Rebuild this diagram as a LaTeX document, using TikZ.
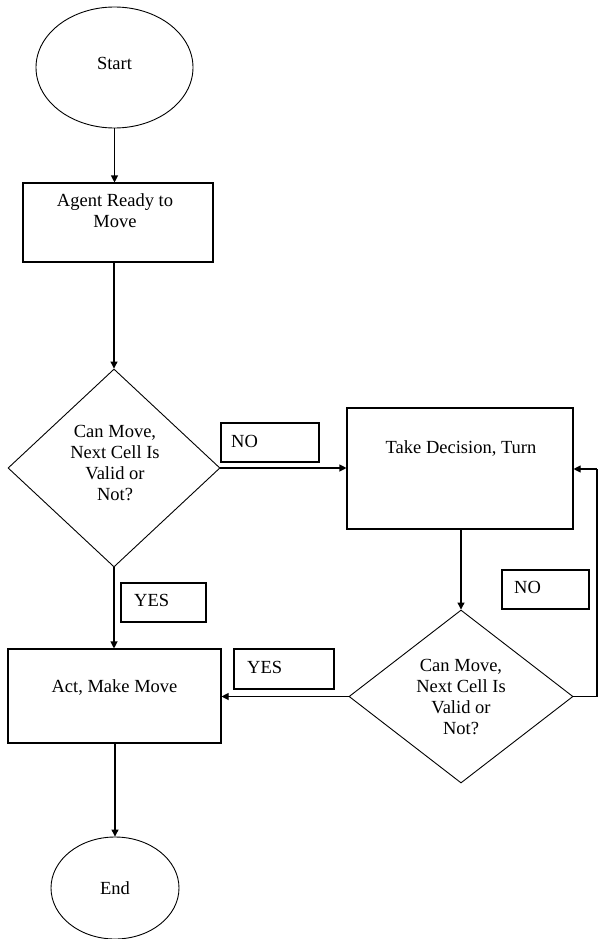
\documentclass[tikz,border=0pt]{standalone}
\usepackage{fontspec}
\setmainfont{Liberation Serif}
\usetikzlibrary{shapes.geometric,arrows.meta}
\begin{document}
\begin{tikzpicture}[x=1pt,y=-1pt,
  shp/.style={draw=black,line width=1.1pt,inner sep=0pt,fill=none},
  boxs/.style={shp,rectangle},
  ells/.style={shp,ellipse,line width=0.9pt},
  dias/.style={shp,diamond,line width=0.9pt},
  txt/.style={font=\fontsize{18.5}{21}\selectfont,align=center,inner sep=0pt},
  lbl/.style={font=\fontsize{18.5}{21}\selectfont,anchor=west,inner sep=0pt},
  conn/.style={draw=black,line width=1.1pt,-{Triangle[length=7pt,width=7pt]}},
  plain/.style={draw=black,line width=1.1pt}]
\useasboundingbox (0,0) rectangle (599,939);
\fill[white] (0,0) rectangle (599,939);
% shapes
\node[ells,minimum width=157,minimum height=121] (start) at (114.5,67.5) {};
\node[txt] (starttxt) at (114.5,63) {Start};
\node[boxs,minimum width=190,minimum height=79] (agent) at (118,222.5) {};
\node[txt] (agenttxt) at (115,210.5) {Agent Ready to\\Move};
\node[dias,minimum width=212,minimum height=198] (d1) at (114,468) {};
\node[txt] (d1txt) at (115,463.5) {Can Move,\\Next Cell Is\\Valid or\\Not?};
\node[boxs,minimum width=98,minimum height=39] (no1) at (270,442.5) {};
\node[lbl] (no1txt) at (231,441) {NO};
\node[boxs,minimum width=226,minimum height=121] (take) at (460,468.5) {};
\node[txt] (taketxt) at (461,448) {Take Decision, Turn};
\node[dias,minimum width=224,minimum height=173] (d2) at (461,696.5) {};
\node[txt] (d2txt) at (461,696.5) {Can Move,\\Next Cell Is\\Valid or\\Not?};
\node[boxs,minimum width=87,minimum height=39] (no2) at (545.5,589.5) {};
\node[lbl] (no2txt) at (514,587.5) {NO};
\node[boxs,minimum width=85,minimum height=39] (yes1) at (163.5,602.5) {};
\node[lbl] (yes1txt) at (134,600) {YES};
\node[boxs,minimum width=213,minimum height=94] (act) at (114.5,696) {};
\node[txt] (acttxt) at (114.5,687) {Act, Make Move};
\node[boxs,minimum width=100,minimum height=40] (yes2) at (284,669) {};
\node[lbl] (yes2txt) at (247,667) {YES};
\node[ells,minimum width=128,minimum height=102] (end) at (115,888) {};
\node[txt] (endtxt) at (115,888) {End};
% connectors
\draw[conn] (start.south) -- (agent.north -| start.south);
\draw[conn] (agent.south -| d1.north) -- (d1.north);
\draw[conn] (d1.east) -- (take.west |- d1.east);
\draw[conn] (take.south -| d2.north) -- (d2.north);
\draw[conn] (d1.south) -- (act.north -| d1.south);
\draw[conn] (d2.west) -- (act.east |- d2.west);
\draw[conn] (act.south -| end.north) -- (end.north);
\coordinate (rb) at (597,696.5);
\coordinate (rt) at (597,469);
\draw[plain] (d2.east) -- (rb) -- (rt);
\draw[conn] (rt) -- (take.east |- rt);
\end{tikzpicture}
\end{document}
